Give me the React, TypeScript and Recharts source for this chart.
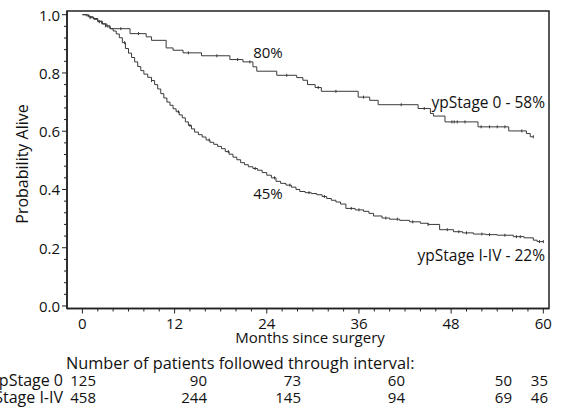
import React from 'react';
import { ComposedChart, Line, Scatter, XAxis, YAxis, ReferenceArea } from 'recharts';

// ypStage 0 Kaplan-Meier steps (months, survival)
const stage0Months = [0, 0.8, 1.4, 2.0, 2.6, 3.2, 3.6, 6.2, 8.3, 9.0, 10.9, 11.8, 13.1, 15.5, 19.2, 20.9, 22.2, 22.7, 25.3, 27.9, 28.7, 29.3, 30.3, 31.1, 35.9, 37.4, 38.5, 43.7, 45.3, 45.7, 47.2, 51.5, 55.5, 57.8, 58.3, 58.7];
const stage0Surv = [1.0, 0.993, 0.987, 0.978, 0.968, 0.958, 0.952, 0.935, 0.924, 0.912, 0.886, 0.878, 0.869, 0.859, 0.846, 0.838, 0.821, 0.806, 0.792, 0.784, 0.775, 0.76, 0.75, 0.737, 0.717, 0.706, 0.691, 0.678, 0.661, 0.652, 0.632, 0.615, 0.601, 0.592, 0.581, 0.581];

// ypStage I-IV Kaplan-Meier steps (months, survival)
const stageIMonths = [0, 0.5, 1.0, 1.5, 2.0, 2.5, 3.0, 3.6, 4.0, 4.4, 4.8, 5.2, 5.6, 6.0, 6.4, 6.8, 7.2, 7.6, 8.0, 8.5, 9.0, 9.4, 9.8, 10.2, 10.6, 11.0, 11.4, 11.8, 12.2, 12.6, 13.0, 13.4, 13.8, 14.2, 14.6, 15.1, 15.6, 16.1, 16.6, 17.1, 17.6, 18.1, 18.6, 19.1, 19.6, 20.1, 20.6, 21.1, 21.6, 22.2, 22.8, 23.4, 24.0, 24.6, 25.2, 25.8, 26.5, 27.2, 27.8, 28.3, 29.0, 29.8, 30.5, 31.2, 31.8, 32.4, 33.0, 33.6, 34.3, 35.5, 36.6, 37.3, 37.9, 39.0, 40.0, 41.3, 42.6, 44.0, 45.0, 46.5, 48.3, 49.5, 50.9, 52.5, 54.0, 56.1, 57.5, 58.7, 59.2, 60.0];
const stageISurv = [1.0, 0.996, 0.99, 0.984, 0.976, 0.969, 0.962, 0.952, 0.944, 0.934, 0.921, 0.904, 0.884, 0.868, 0.853, 0.838, 0.822, 0.808, 0.796, 0.785, 0.774, 0.76, 0.745, 0.729, 0.714, 0.7, 0.689, 0.677, 0.667, 0.656, 0.646, 0.632, 0.62, 0.608, 0.597, 0.588, 0.58, 0.57, 0.562, 0.555, 0.548, 0.54, 0.53, 0.521, 0.511, 0.502, 0.492, 0.485, 0.478, 0.472, 0.466, 0.458, 0.449, 0.44, 0.428, 0.421, 0.415, 0.408, 0.4, 0.393, 0.389, 0.386, 0.382, 0.376, 0.369, 0.363, 0.357, 0.35, 0.335, 0.33, 0.325, 0.318, 0.309, 0.302, 0.298, 0.294, 0.289, 0.284, 0.28, 0.262, 0.255, 0.251, 0.247, 0.245, 0.243, 0.238, 0.234, 0.226, 0.221, 0.221];

// censoring times (months)
const stage0Censored = [5.0, 7.3, 13.8, 17.5, 20.2, 21.8, 26.6, 30.7, 33.0, 36.6, 41.5, 44.5, 48.1, 48.4, 48.8, 49.8, 51.9, 53.0, 54.0, 55.0, 57.2, 58.7];
const stageICensored = [1.0, 2.2, 3.0, 5.5, 9.0, 12.5, 14.0, 16.5, 19.0, 22.5, 25.0, 27.0, 29.5, 31.5, 35.0, 36.0, 39.5, 41.0, 43.0, 45.0, 47.5, 49.0, 50.0, 52.0, 53.0, 55.0, 56.5, 57.0, 59.5, 60.0];

// axis ticks
const xTicks = [0, 2, 4, 6, 8, 10, 12, 14, 16, 18, 20, 22, 24, 26, 28, 30, 32, 34, 36, 38, 40, 42, 44, 46, 48, 50, 52, 54, 56, 58, 60];
const xLabelTicks = [0, 12, 24, 36, 48, 60];
const yTicks = [0, 0.04, 0.08, 0.12, 0.16, 0.2, 0.24, 0.28, 0.32, 0.36, 0.4, 0.44, 0.48, 0.52, 0.56, 0.6, 0.64, 0.68, 0.72, 0.76, 0.8, 0.84, 0.88, 0.92, 0.96, 1.0];
const yLabelTicks = [0, 0.2, 0.4, 0.6, 0.8, 1.0];

// number at risk table
const riskRowLabels = ['ypStage 0', 'ypStage I-IV'];
const riskStage0 = [125, 90, 73, 60, 50, 35];
const riskStageI = [458, 244, 145, 94, 69, 46];

// annotation texts
const curveLabels = ['80%', '45%', 'ypStage 0 - 58%', 'ypStage I-IV - 22%'];

const W = 563;
const H = 410;
const FONT = '"Open Sans", sans-serif';
const FS = 15;
const INK = '#111';
const AXIS = '#222';
const CURVE = '#3a3a3a';
const X_DOMAIN: [number, number] = [-2.006, 60.74];
const Y_DOMAIN: [number, number] = [-0.0086, 1.0127];

const toSeries = (ms: number[], vs: number[]) => ms.map((m, i) => ({ m, v: vs[i] }));
const stepAt = (ms: number[], vs: number[], t: number) => {
  let v = vs[0];
  for (let i = 0; i < ms.length; i++) if (ms[i] <= t) v = vs[i];
  return v;
};

const stage0Data = toSeries(stage0Months, stage0Surv);
const stageIData = toSeries(stageIMonths, stageISurv);
const stage0CensorData = stage0Censored.map((t) => ({ m: t, v: stepAt(stage0Months, stage0Surv, t) }));
const stageICensorData = stageICensored.map((t) => ({ m: t, v: stepAt(stageIMonths, stageISurv, t) }));

const XTick = (props: any) => {
  const { x, y, payload } = props;
  const val = payload.value;
  const major = xLabelTicks.includes(val);
  return (
    <g>
      <line x1={x} x2={x} y1={y} y2={y + (major ? 5 : 3)} stroke={AXIS} strokeWidth={1} />
      {major && (
        <text x={x} y={y + 14.5} textAnchor="middle" dominantBaseline="central" fontFamily={FONT} fontSize={FS} fill={INK}>
          {val}
        </text>
      )}
    </g>
  );
};

const YTick = (props: any) => {
  const { x, y, payload } = props;
  const val = payload.value;
  const major = yLabelTicks.some((t) => Math.abs(t - val) < 1e-6);
  return (
    <g>
      <line x1={x} x2={x - (major ? 5 : 3)} y1={y} y2={y} stroke={AXIS} strokeWidth={1} />
      {major && (
        <text x={x - 7} y={y} textAnchor="end" dominantBaseline="central" fontFamily={FONT} fontSize={FS} fill={INK}>
          {val.toFixed(1)}
        </text>
      )}
    </g>
  );
};

const CensorMark = (props: any) => {
  const { cx, cy } = props;
  return <line x1={cx} x2={cx} y1={cy - 1.5} y2={cy + 1.5} stroke={CURVE} strokeWidth={1} />;
};

const riskColRight = [96, 207, 301, 405, 512, 548];

export default function App() {
  return (
    <div style={{ position: 'absolute', left: 0, top: 0, width: W, height: H, background: '#fff' }}>
      <ComposedChart width={W} height={H} margin={{ top: 11, right: 14, bottom: 71.5, left: 0 }}>
        <XAxis
          type="number"
          dataKey="m"
          domain={X_DOMAIN}
          allowDataOverflow
          ticks={xTicks}
          interval={0}
          tick={<XTick />}
          tickLine={false}
          tickSize={0}
          tickMargin={0}
          axisLine={{ stroke: AXIS, strokeWidth: 1.5 }}
          height={30}
        />
        <YAxis
          type="number"
          dataKey="v"
          domain={Y_DOMAIN}
          allowDataOverflow
          ticks={yTicks}
          interval={0}
          tick={<YTick />}
          tickLine={false}
          tickSize={0}
          tickMargin={0}
          axisLine={{ stroke: AXIS, strokeWidth: 1.5 }}
          width={67}
        />
        <ReferenceArea
          x1={X_DOMAIN[0]}
          x2={X_DOMAIN[1]}
          y1={Y_DOMAIN[0]}
          y2={Y_DOMAIN[1]}
          fill="none"
          fillOpacity={0}
          stroke={AXIS}
          strokeWidth={1.5}
          ifOverflow="visible"
        />
        <Line data={stage0Data} dataKey="v" type="stepAfter" stroke={CURVE} strokeWidth={1} dot={false} isAnimationActive={false} />
        <Line data={stageIData} dataKey="v" type="stepAfter" stroke={CURVE} strokeWidth={1} dot={false} isAnimationActive={false} />
        <Scatter data={stage0CensorData} dataKey="v" shape={<CensorMark />} isAnimationActive={false} />
        <Scatter data={stageICensorData} dataKey="v" shape={<CensorMark />} isAnimationActive={false} />
      </ComposedChart>
      <svg width={W} height={H} style={{ position: 'absolute', left: 0, top: 0, pointerEvents: 'none' }}>
        <g fontFamily={FONT} fill={INK} fontSize={FS}>
          <text x={22} y={164} fontSize={16} textAnchor="middle" dominantBaseline="central" transform="rotate(-90 22 164)">
            Probability Alive
          </text>
          <text x={310} y={337} textAnchor="middle" dominantBaseline="central">
            Months since surgery
          </text>
          <text x={268} y={52} textAnchor="middle" dominantBaseline="central">{curveLabels[0]}</text>
          <text x={268} y={193} textAnchor="middle" dominantBaseline="central">{curveLabels[1]}</text>
          <text x={545} y={102} fontSize={15.5} textAnchor="end" dominantBaseline="central">{curveLabels[2]}</text>
          <text x={545} y={255} fontSize={15.5} textAnchor="end" dominantBaseline="central">{curveLabels[3]}</text>
          <text x={66} y={363} fontSize={16.3} textAnchor="start" dominantBaseline="central">
            Number of patients followed through interval:
          </text>
          <text x={63} y={380} fontSize={16} textAnchor="end" dominantBaseline="central">{riskRowLabels[0]}</text>
          <text x={63} y={397} fontSize={16} textAnchor="end" dominantBaseline="central">{riskRowLabels[1]}</text>
          {riskStage0.map((n, i) => (
            <text key={'a' + i} x={riskColRight[i]} y={380} textAnchor="end" dominantBaseline="central">{n}</text>
          ))}
          {riskStageI.map((n, i) => (
            <text key={'b' + i} x={riskColRight[i]} y={397} textAnchor="end" dominantBaseline="central">{n}</text>
          ))}
        </g>
      </svg>
    </div>
  );
}
